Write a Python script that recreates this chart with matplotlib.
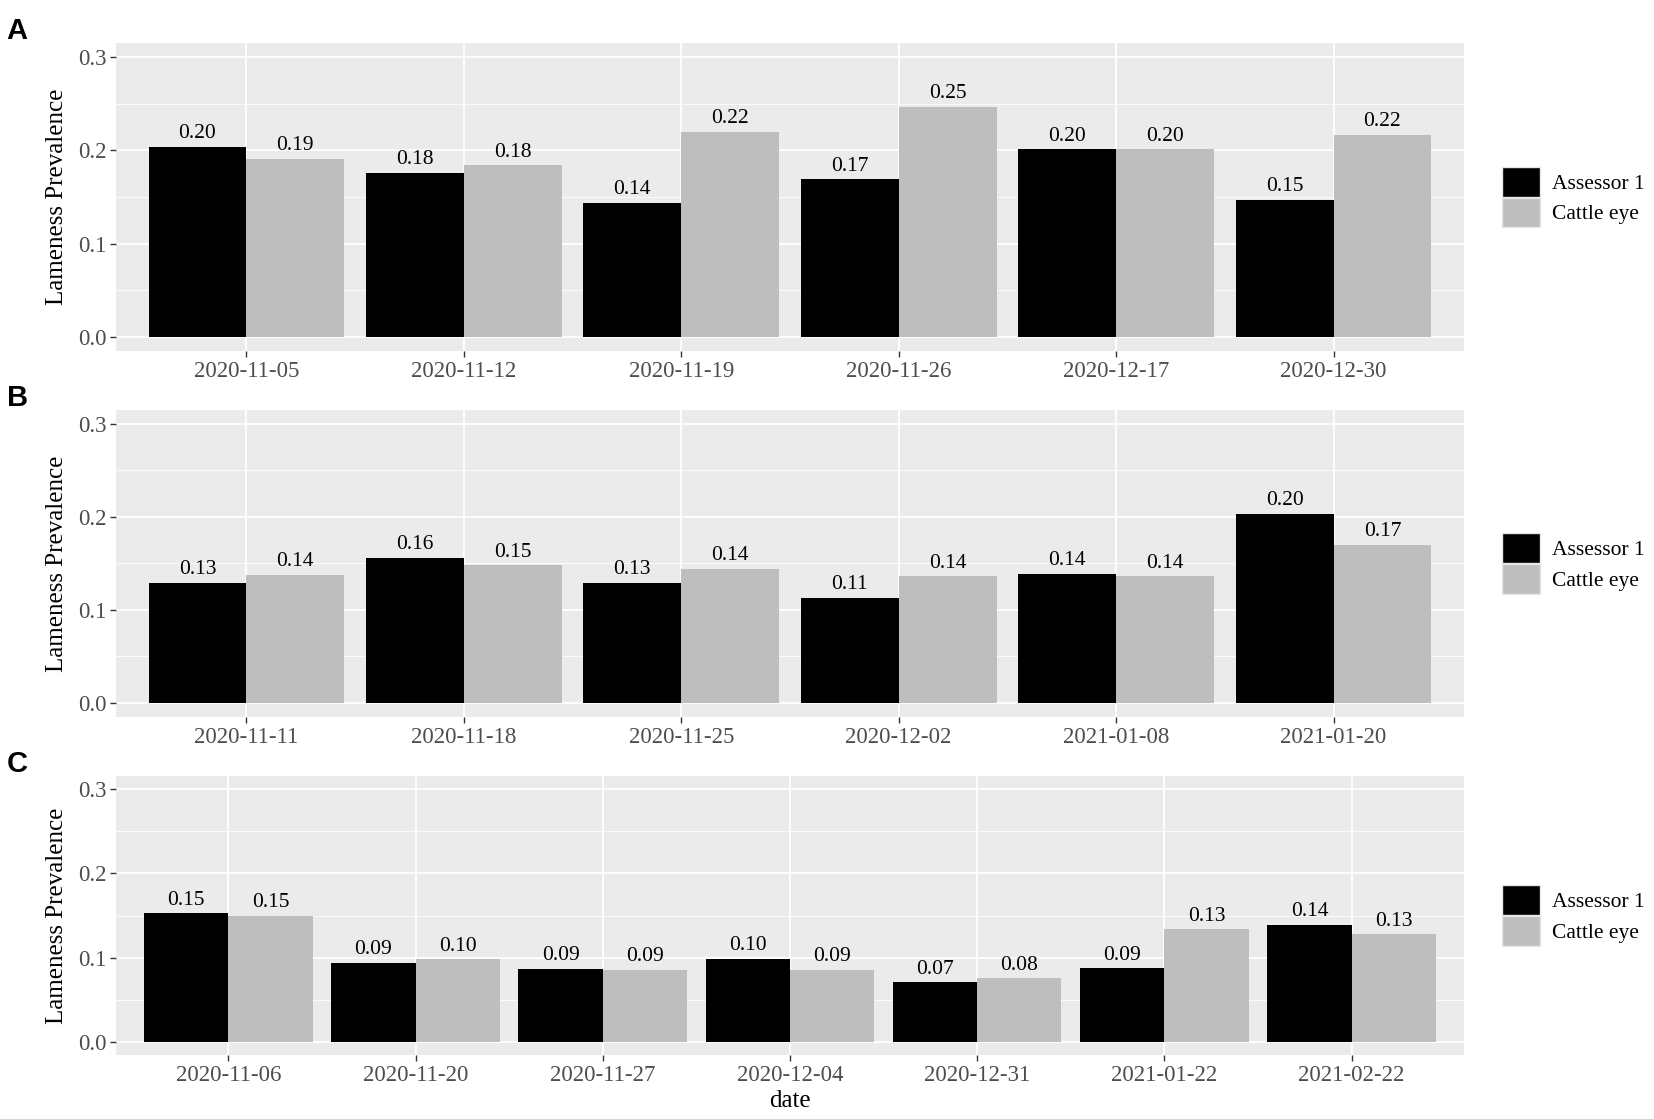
import matplotlib.pyplot as plt
from matplotlib.patches import Patch
import numpy as np

plt.rcParams['font.family'] = ['Liberation Serif', 'DejaVu Serif']

# panel A
dates_a = ["2020-11-05", "2020-11-12", "2020-11-19", "2020-11-26", "2020-12-17", "2020-12-30"]
assessor_a = [0.204, 0.176, 0.144, 0.169, 0.201, 0.147]
cattle_a = [0.191, 0.184, 0.220, 0.247, 0.201, 0.217]

# panel B
dates_b = ["2020-11-11", "2020-11-18", "2020-11-25", "2020-12-02", "2021-01-08", "2021-01-20"]
assessor_b = [0.129, 0.156, 0.129, 0.113, 0.139, 0.203]
cattle_b = [0.138, 0.148, 0.144, 0.136, 0.136, 0.170]

# panel C
dates_c = ["2020-11-06", "2020-11-20", "2020-11-27", "2020-12-04", "2020-12-31", "2021-01-22", "2021-02-22"]
assessor_c = [0.153, 0.094, 0.087, 0.099, 0.071, 0.088, 0.139]
cattle_c = [0.150, 0.098, 0.086, 0.086, 0.076, 0.134, 0.128]

series_names = ["Assessor 1", "Cattle eye"]
colors = ["#000000", "#BEBEBE"]

fig = plt.figure(figsize=(16.54, 11.19), dpi=100)

panels = [
    ("A", dates_a, assessor_a, cattle_a, [0.0701, 0.6863, 0.815, 0.2752]),
    ("B", dates_b, assessor_b, cattle_b, [0.0701, 0.3593, 0.815, 0.2744]),
    ("C", dates_c, assessor_c, cattle_c, [0.0701, 0.0572, 0.815, 0.2493]),
]

for letter, dates, s1, s2, pos in panels:
    ax = fig.add_axes(pos)
    ax.set_facecolor("#EBEBEB")
    x = np.arange(1, len(dates) + 1)
    w = 0.45
    for off, vals, col in [(-w / 2, s1, colors[0]), (w / 2, s2, colors[1])]:
        ax.bar(x + off, vals, width=w, color=col, zorder=3)
        for xi, v in zip(x + off, vals):
            ax.text(xi, v + 0.004, f"{v:.2f}", ha="center", va="bottom", fontsize=15.5, zorder=4)
    ax.set_xlim(0.4, len(dates) + 0.6)
    ax.set_ylim(-0.015, 0.315)
    ax.set_xticks(x)
    ax.set_xticklabels(dates)
    ax.set_yticks([0.0, 0.1, 0.2, 0.3])
    ax.set_yticklabels(["0.0", "0.1", "0.2", "0.3"])
    ax.set_yticks([0.05, 0.15, 0.25], minor=True)
    ax.grid(which="major", color="white", linewidth=1.3, zorder=0)
    ax.grid(which="minor", axis="y", color="white", linewidth=0.6, zorder=0)
    ax.set_axisbelow(True)
    for s in ax.spines.values():
        s.set_visible(False)
    ax.tick_params(axis="both", which="major", colors="#333333", labelcolor="#4D4D4D",
                   labelsize=16.5, length=4, width=1, pad=3)
    ax.tick_params(axis="y", which="minor", length=0)
    ax.set_ylabel("Lameness Prevalence", fontsize=18, labelpad=7)
    handles = [Patch(facecolor=c, edgecolor="#E6E6E6", label=n) for c, n in zip(colors, series_names)]
    ax.legend(handles=handles, loc="center left", bbox_to_anchor=(1.022, 0.5), frameon=False,
              fontsize=15.5, handlelength=1.75, handleheight=1.75, labelspacing=0.05, handletextpad=0.55,
              borderaxespad=0)
    fig.text(0.004, pos[1] + pos[3] + 0.011, letter, fontsize=21, fontweight="bold",
             family="Liberation Sans", va="center", ha="left")
    if letter == "C":
        ax.set_xlabel("date", fontsize=18, labelpad=3)

fig.savefig("out.png", dpi=100)
